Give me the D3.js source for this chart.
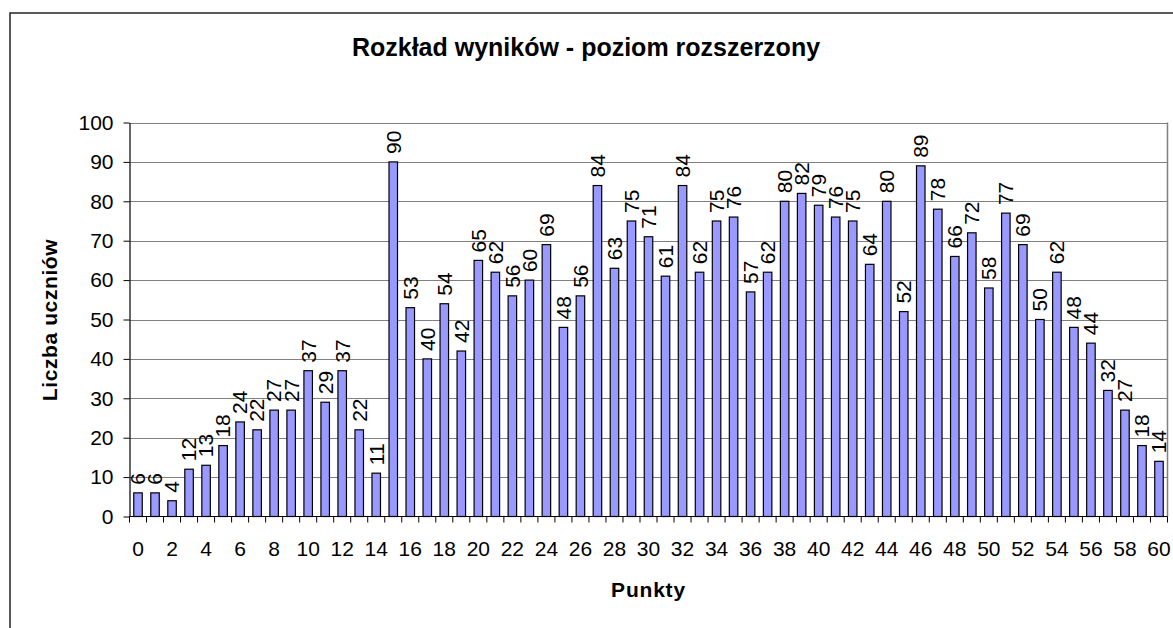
<!DOCTYPE html>
<html>
<head>
<meta charset="utf-8">
<script src="https://cdn.jsdelivr.net/npm/d3@7"></script>
<style>
  html, body { margin: 0; padding: 0; background: #fff; }
  svg { display: block; font-family: "Liberation Sans", Arial, sans-serif; }
</style>
</head>
<body>
<svg id="chart" width="1173" height="628"></svg>
<script>
const title = "Rozkład wyników - poziom rozszerzony";
const xTitle = "Punkty";
const yTitle = "Liczba uczniów";
const categories = d3.range(0, 61);
const values = [6, 6, 4, 12, 13, 18, 24, 22, 27, 27, 37, 29, 37, 22, 11, 90, 53, 40, 54, 42,
  65, 62, 56, 60, 69, 48, 56, 84, 63, 75, 71, 61, 84, 62, 75, 76, 57, 62, 80, 82,
  79, 76, 75, 64, 80, 52, 89, 78, 66, 72, 58, 77, 69, 50, 62, 48, 44, 32, 27, 18, 14];
const yTicks = [0, 10, 20, 30, 40, 50, 60, 70, 80, 90, 100];

const svg = d3.select("#chart");
const plot = { left: 129.5, right: 1167.5, top: 122.5, bottom: 516.5 };
const numSize = 21;

// outer chart frame
svg.append("rect")
  .attr("x", 10).attr("y", 13)
  .attr("width", 1200).attr("height", 700)
  .attr("fill", "none").attr("stroke", "#222").attr("stroke-width", 1.5);

const x = d3.scaleBand().domain(categories).range([plot.left, plot.right])
  .paddingInner(0.5).paddingOuter(0.25);
const y = d3.scaleLinear().domain([0, 100]).range([plot.bottom, plot.top]);

// gridlines
svg.append("g").selectAll("line").data(yTicks.filter(d => d > 0)).join("line")
  .attr("x1", plot.left).attr("x2", plot.right)
  .attr("y1", d => Math.round(y(d)) + 0.5).attr("y2", d => Math.round(y(d)) + 0.5)
  .attr("stroke", "#808080").attr("stroke-width", 1);

// right plot border
svg.append("line")
  .attr("x1", plot.right).attr("x2", plot.right)
  .attr("y1", plot.top).attr("y2", plot.bottom)
  .attr("stroke", "#808080").attr("stroke-width", 1.5);

// bars
svg.append("g").selectAll("rect").data(values).join("rect")
  .attr("x", (d, i) => x(categories[i]))
  .attr("width", x.bandwidth())
  .attr("y", d => y(d))
  .attr("height", d => y(0) - y(d))
  .attr("fill", "#9999FF").attr("stroke", "#000").attr("stroke-width", 1.2);

// data labels
svg.append("g").selectAll("text").data(values).join("text")
  .attr("transform", (d, i) => `translate(${x(categories[i]) + x.bandwidth() / 2},${y(d) - 8}) rotate(-90)`)
  .attr("text-anchor", "start")
  .attr("dy", "0.35em")
  .attr("font-size", numSize)
  .attr("fill", "#000")
  .text(d => d);

// y axis
const yAxis = d3.axisLeft(y).tickValues(yTicks).tickSize(6).tickPadding(10).tickSizeOuter(0);
const gy = svg.append("g").attr("transform", `translate(${plot.left},0)`).call(yAxis);
gy.select(".domain").attr("stroke", "#000").attr("stroke-width", 1.2);
gy.selectAll(".tick line").attr("stroke", "#000");
gy.selectAll(".tick text").attr("font-size", numSize).attr("font-family", "Liberation Sans, Arial, sans-serif").attr("fill", "#000");

// x axis: baseline
const xAxisG = svg.append("g");
xAxisG.append("line")
  .attr("x1", plot.left).attr("x2", plot.right)
  .attr("y1", y(0)).attr("y2", y(0))
  .attr("stroke", "#000").attr("stroke-width", 1.2);
// tick marks at category boundaries
const step = x.step();
const bounds = d3.range(0, categories.length + 1).map(i => plot.left + i * step);
xAxisG.selectAll("line.tk").data(bounds).join("line").attr("class", "tk")
  .attr("x1", d => d).attr("x2", d => d)
  .attr("y1", y(0)).attr("y2", y(0) + 6)
  .attr("stroke", "#000").attr("stroke-width", 1);
// tick labels every 2
xAxisG.selectAll("text").data(categories.filter(c => c % 2 === 0)).join("text")
  .attr("x", d => x(d) + x.bandwidth() / 2)
  .attr("y", 555.5)
  .attr("text-anchor", "middle")
  .attr("font-size", numSize)
  .attr("fill", "#000")
  .text(d => d);

// titles
svg.append("text").attr("x", 586).attr("y", 56)
  .attr("text-anchor", "middle").attr("font-size", 25).attr("font-weight", "bold")
  .text(title);
svg.append("text").attr("x", (plot.left + plot.right) / 2).attr("y", 597)
  .attr("text-anchor", "middle").attr("font-size", 21).attr("font-weight", "bold")
  .attr("letter-spacing", 0.8)
  .text(xTitle);
svg.append("text")
  .attr("transform", `translate(57,320) rotate(-90)`)
  .attr("text-anchor", "middle").attr("font-size", 21).attr("font-weight", "bold")
  .attr("letter-spacing", 0.6)
  .text(yTitle);
</script>
</body>
</html>
